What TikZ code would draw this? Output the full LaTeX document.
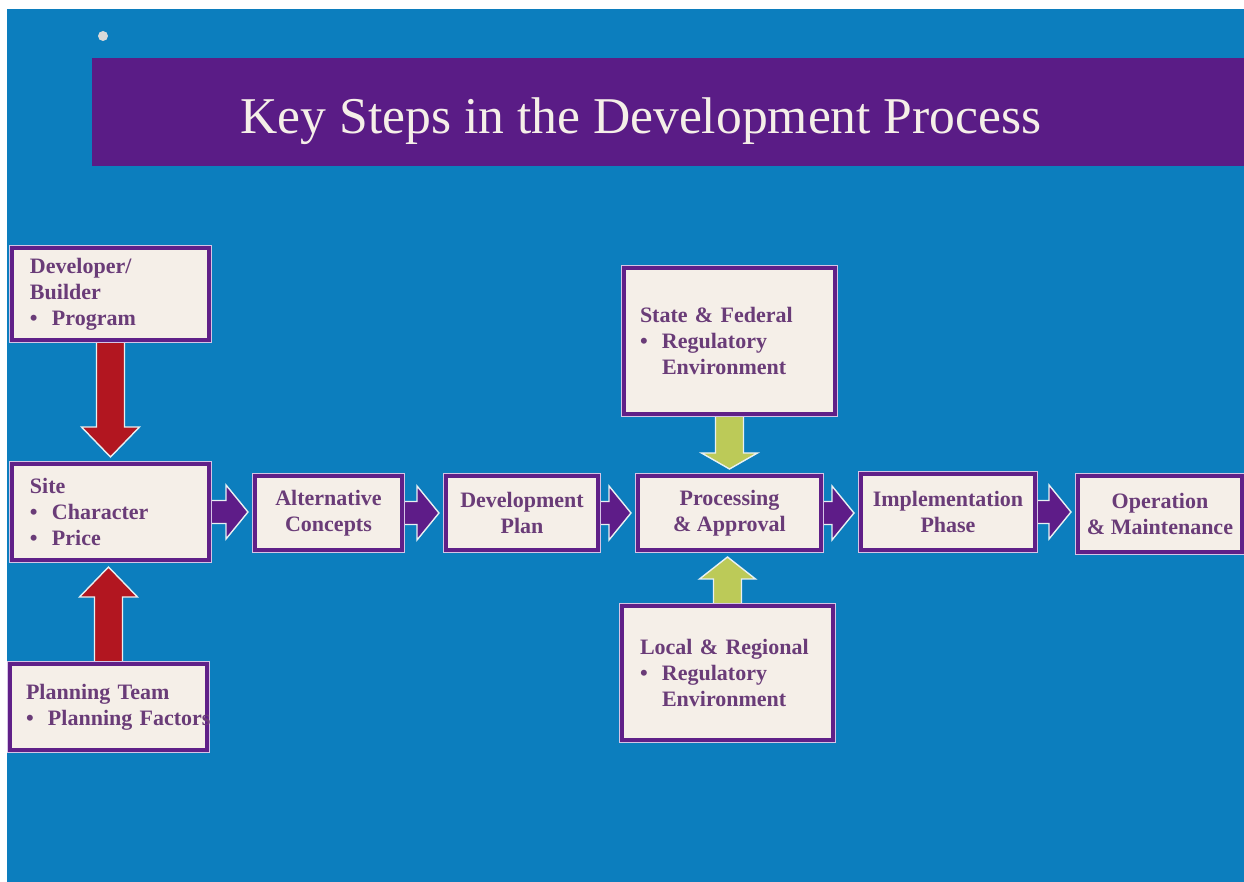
\documentclass[tikz,border=0pt]{standalone}
\usepackage{fontspec}
\setmainfont{Liberation Serif}
\usetikzlibrary{positioning,calc,backgrounds}

\definecolor{sky}{RGB}{12,126,190}
\definecolor{banner}{RGB}{90,28,134}
\definecolor{cream}{RGB}{245,239,232}
\definecolor{boxline}{RGB}{96,32,136}
\definecolor{boxedge}{RGB}{214,196,230}
\definecolor{boxtext}{RGB}{106,60,120}
\definecolor{redarrow}{RGB}{178,22,32}
\definecolor{violetarrow}{RGB}{94,28,136}
\definecolor{greenarrow}{RGB}{188,202,88}
\definecolor{arrowedge}{RGB}{232,240,242}

% bullet with a fixed indent, and the matching indent for wrapped lines
\newcommand{\itm}{\makebox[1em][l]{\textbullet}}
\newcommand{\hang}{\hspace*{1em}}

% block arrows: style, from, to, half shaft, half head, head length
\newcommand{\arrowright}[6]{%
  \draw[#1] let \p1=(#2), \p2=(#3) in
    (\x1,\y1-#4) -- (\x2-2.5pt-#6,\y1-#4) -- (\x2-2.5pt-#6,\y1-#5) -- (\x2-2.5pt,\y1)
    -- (\x2-2.5pt-#6,\y1+#5) -- (\x2-2.5pt-#6,\y1+#4) -- (\x1,\y1+#4) -- cycle;}
\newcommand{\arrowdown}[6]{%
  \draw[#1] let \p1=(#2), \p2=(#3) in
    (\x1-#4,\y1) -- (\x1-#4,\y2+2.5pt+#6) -- (\x1-#5,\y2+2.5pt+#6) -- (\x1,\y2+2.5pt)
    -- (\x1+#5,\y2+2.5pt+#6) -- (\x1+#4,\y2+2.5pt+#6) -- (\x1+#4,\y1) -- cycle;}
\newcommand{\arrowup}[6]{%
  \draw[#1] let \p1=(#2), \p2=(#3) in
    (\x1-#4,\y1) -- (\x1-#4,\y2-2.5pt-#6) -- (\x1-#5,\y2-2.5pt-#6) -- (\x1,\y2-2.5pt)
    -- (\x1+#5,\y2-2.5pt-#6) -- (\x1+#4,\y2-2.5pt-#6) -- (\x1+#4,\y1) -- cycle;}

\tikzset{
  stepbox/.style={draw=boxline, line width=2pt, fill=cream,
    preaction={draw=boxedge, line width=3.4pt},
    text=boxtext, font=\fontsize{11}{13}\selectfont\bfseries,
    inner sep=0pt, anchor=north west},
  leftbox/.style={stepbox, align=left},
  midbox/.style={stepbox, align=center},
  blockarrow/.style={draw=arrowedge, line width=0.7pt, line join=miter},
}

\begin{document}
\begin{tikzpicture}[x=0.5pt,y=-0.5pt]

\useasboundingbox (0,0) rectangle (1244,882);
\begin{scope}[on background layer]
  \fill[white] (0,0) rectangle (1244,882);
  \fill[sky] (7,9) rectangle (1244,882);
\end{scope}

% heading
\fill[black!15!white] (103,36) circle (2.5pt);
\fill[banner] (92,58) rectangle (1244,166);
\draw (641,121) node [text=cream, font=\fontsize{25.8}{30}\selectfont] (title) {Key Steps in the Development Process};

% left column
\draw (10,246) node [leftbox, text width=80.5pt, inner xsep=9pt, minimum height=46pt] (dev) {Developer/\\Builder\\\itm Program};
\draw (10,462) node [leftbox, text width=80.5pt, inner xsep=9pt, minimum height=48pt] (site) {Site\\\itm Character\\\itm Price};
\draw (8,662) node [leftbox, text width=82.5pt, inner xsep=8pt, minimum height=43pt] (team) {Planning Team\\\itm \mbox{Planning Factors}};

% main row
\draw (253,474) node [midbox, minimum width=73.5pt, minimum height=37pt] (alt) {Alternative\\Concepts};
\draw (444,474) node [midbox, minimum width=76pt, minimum height=37pt] (plan) {Development\\Plan};
\draw (636,474) node [midbox, minimum width=91.5pt, minimum height=37pt] (proc) {Processing\\\& Approval};
\draw (859,472) node [midbox, minimum width=87pt, minimum height=38pt] (impl) {Implementation\\Phase};
\draw (1076,474) node [midbox, minimum width=82pt, minimum height=38pt] (oper) {Operation\\\& Maintenance};

% regulators
\draw (622,266) node [leftbox, text width=89.5pt, inner xsep=8pt, minimum height=73pt] (state) {State \& Federal\\\itm Regulatory\\\hang Environment};
\draw (620,604) node [leftbox, text width=87.5pt, inner xsep=9pt, minimum height=67pt] (local) {Local \& Regional\\\itm Regulatory\\\hang Environment};

% arrows sit behind the boxes
\begin{scope}[on background layer]
  \arrowdown{blockarrow, fill=redarrow}{dev.south}{site.north}{7pt}{14.5pt}{15pt}
  \arrowup{blockarrow, fill=redarrow}{team.north}{site.south}{7pt}{14.5pt}{15pt}
  \arrowdown{blockarrow, fill=greenarrow}{state.south}{proc.north}{7pt}{14pt}{8pt}
  \arrowup{blockarrow, fill=greenarrow}{local.north}{proc.south}{7pt}{14pt}{11pt}
  \arrowright{blockarrow, fill=violetarrow}{site.east}{alt.west}{5.75pt}{13.5pt}{11pt}
  \arrowright{blockarrow, fill=violetarrow}{alt.east}{plan.west}{5.75pt}{13.5pt}{11pt}
  \arrowright{blockarrow, fill=violetarrow}{plan.east}{proc.west}{5.75pt}{13.5pt}{11pt}
  \arrowright{blockarrow, fill=violetarrow}{proc.east}{impl.west}{5.75pt}{13.5pt}{11pt}
  \arrowright{blockarrow, fill=violetarrow}{impl.east}{oper.west}{5.75pt}{13.5pt}{11pt}
\end{scope}

\end{tikzpicture}
\end{document}
